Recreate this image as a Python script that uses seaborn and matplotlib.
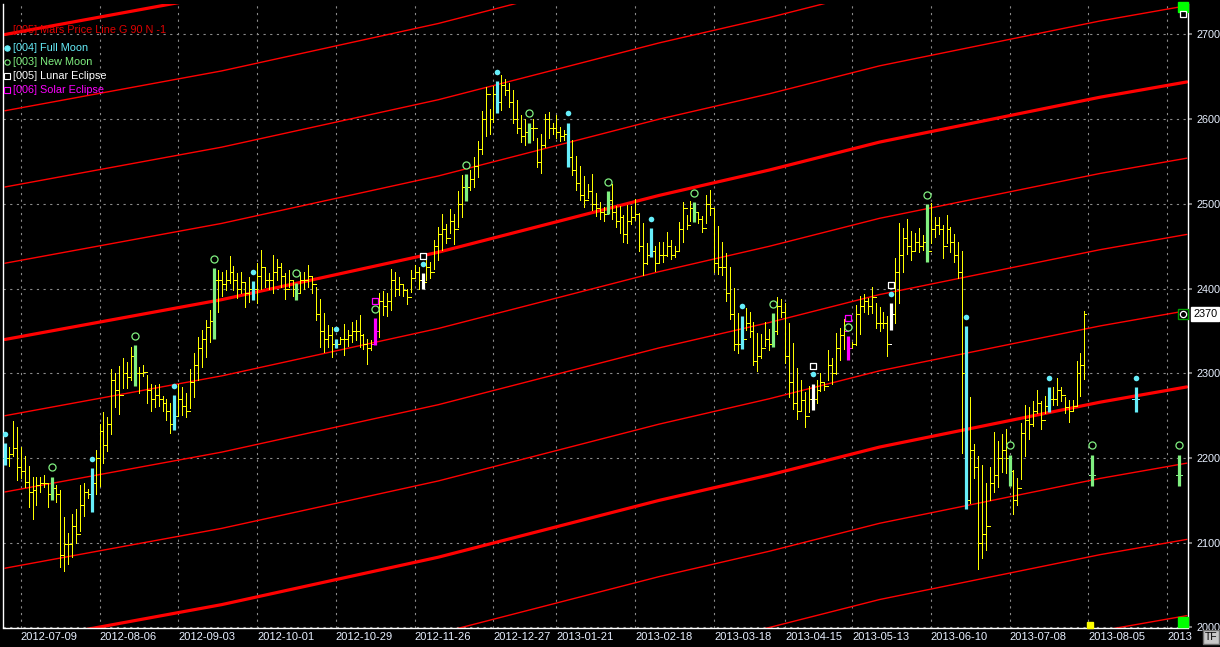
import numpy as np
import pandas as pd
import matplotlib
matplotlib.use("Agg")
import matplotlib.pyplot as plt
import matplotlib.transforms as mtransforms
import seaborn as sns

# daily bars, x = bar number (one per trading day, 2012-07-03 .. 2013-08-02)
highs = [
    2218, 2213, 2244, 2237, 2213, 2202, 2191, 2178, 2178, 2178, 2180, 2170, 2178, 2168, 2162, 2131,
    2111, 2134, 2140, 2168, 2171, 2163, 2188, 2210, 2240, 2254, 2249, 2305, 2300, 2309, 2318, 2313,
    2331, 2333, 2308, 2310, 2298, 2288, 2286, 2288, 2273, 2270, 2265, 2274, 2288, 2284, 2277, 2305,
    2324, 2343, 2351, 2363, 2375, 2424, 2422,
    2420, 2422, 2438, 2427, 2418, 2420, 2407, 2414, 2409, 2430, 2446, 2425, 2418, 2440, 2435, 2430,
    2418, 2422, 2410, 2407, 2420, 2420, 2428, 2414, 2402, 2388, 2371, 2357, 2355, 2341, 2343, 2358,
    2351, 2361, 2363, 2369, 2347, 2340, 2339, 2365, 2395, 2397, 2395, 2423, 2420, 2414, 2404, 2400,
    2422, 2428, 2425, 2418, 2434, 2432, 2457, 2473,
    2488, 2476, 2494, 2488, 2515, 2534, 2535, 2540, 2555, 2574, 2610, 2638, 2612, 2639, 2645, 2652,
    2647, 2643, 2634, 2623, 2605, 2600, 2596, 2600, 2578, 2582, 2606, 2608, 2596, 2605, 2591, 2587,
    2596, 2576, 2556, 2545, 2533, 2524, 2535, 2513, 2502, 2496, 2515, 2524, 2497, 2497, 2487, 2499,
    2497, 2506, 2489, 2477, 2454, 2471, 2450, 2455,
    2455, 2467, 2457, 2450, 2479, 2502, 2487, 2503, 2502, 2491, 2486, 2511, 2516, 2494, 2474, 2455,
    2442, 2426, 2401, 2371, 2368, 2377, 2372, 2361, 2348, 2347, 2361, 2352, 2371, 2390, 2388, 2383,
    2359, 2336, 2306, 2292, 2278, 2285, 2288, 2292, 2300, 2289, 2327, 2318, 2348, 2354, 2364, 2344,
    2337, 2381, 2391, 2394, 2389, 2402, 2383, 2378,
    2373, 2368, 2383, 2436, 2478, 2471, 2482, 2468, 2466, 2471, 2463, 2500, 2501, 2484, 2484, 2475,
    2487, 2473, 2465, 2455, 2444, 2356, 2272, 2217, 2202, 2192, 2170, 2190, 2231, 2220, 2228, 2234,
    2204, 2186, 2176, 2241, 2263, 2260, 2267, 2280, 2267, 2273, 2284, 2284, 2294, 2284, 2272, 2269,
    2268, 2314, 2324, 2374,
]
lows = [
    2192, 2191, 2202, 2174, 2176, 2166, 2142, 2128, 2145, 2160, 2166, 2142, 2150, 2148, 2072, 2067,
    2075, 2083, 2100, 2114, 2132, 2153, 2136, 2157, 2167, 2194, 2208, 2228, 2260, 2252, 2283, 2283,
    2292, 2285, 2277, 2297, 2265, 2256, 2260, 2262, 2256, 2245, 2230, 2233, 2251, 2251, 2248, 2259,
    2272, 2292, 2308, 2319, 2337, 2340, 2373,
    2391, 2398, 2407, 2398, 2389, 2395, 2378, 2384, 2387, 2383, 2400, 2402, 2400, 2395, 2410, 2402,
    2388, 2402, 2391, 2387, 2396, 2400, 2402, 2395, 2363, 2331, 2325, 2331, 2319, 2330, 2335, 2322,
    2332, 2337, 2339, 2331, 2329, 2311, 2327, 2333, 2343, 2369, 2368, 2375, 2391, 2393, 2391, 2382,
    2396, 2413, 2400, 2399, 2410, 2412, 2423, 2434,
    2446, 2454, 2466, 2453, 2473, 2485, 2503, 2516, 2520, 2532, 2559, 2580, 2582, 2597, 2607, 2611,
    2629, 2615, 2595, 2584, 2573, 2570, 2572, 2576, 2544, 2537, 2567, 2578, 2582, 2578, 2574, 2575,
    2544, 2534, 2517, 2505, 2496, 2507, 2493, 2486, 2482, 2480, 2488, 2482, 2473, 2466, 2455, 2454,
    2476, 2481, 2445, 2416, 2429, 2437, 2421, 2430,
    2432, 2438, 2435, 2437, 2446, 2455, 2470, 2480, 2479, 2477, 2467, 2477, 2487, 2420, 2417, 2416,
    2386, 2364, 2328, 2324, 2329, 2351, 2343, 2310, 2303, 2318, 2332, 2328, 2331, 2346, 2366, 2312,
    2272, 2258, 2246, 2256, 2237, 2254, 2257, 2265, 2279, 2280, 2292, 2288, 2299, 2316, 2329, 2316,
    2331, 2333, 2347, 2373, 2370, 2371, 2354, 2350,
    2353, 2320, 2351, 2359, 2383, 2420, 2441, 2434, 2444, 2443, 2446, 2432, 2454, 2461, 2465, 2436,
    2454, 2443, 2432, 2413, 2206, 2140, 2147, 2176, 2069, 2082, 2091, 2150, 2160, 2166, 2183, 2182,
    2167, 2134, 2145, 2175, 2202, 2222, 2238, 2253, 2234, 2253, 2254, 2263, 2263, 2267, 2253, 2242,
    2255, 2261, 2273, 2293,
]
closes = [
    2200, 2205, 2212, 2190, 2185, 2172, 2160, 2162, 2168, 2170, 2170, 2158, 2165, 2158, 2085, 2098,
    2098, 2120, 2110, 2145, 2160, 2158, 2170, 2200, 2232, 2215, 2240, 2292, 2280, 2275, 2300, 2296,
    2320, 2300, 2300, 2302, 2280, 2270, 2275, 2270, 2265, 2255, 2240, 2250, 2270, 2262, 2256, 2290,
    2310, 2330, 2340, 2355, 2362, 2410, 2410,
    2405, 2410, 2420, 2410, 2400, 2408, 2395, 2400, 2400, 2415, 2425, 2410, 2410, 2420, 2425, 2415,
    2400, 2410, 2400, 2395, 2410, 2410, 2415, 2405, 2370, 2350, 2340, 2345, 2335, 2335, 2340, 2340,
    2345, 2350, 2350, 2345, 2335, 2330, 2335, 2350, 2385, 2380, 2385, 2410, 2400, 2405, 2398, 2390,
    2412, 2420, 2410, 2408, 2425, 2420, 2450, 2465,
    2470, 2460, 2480, 2470, 2500, 2520, 2520, 2530, 2545, 2565, 2600, 2630, 2600, 2630, 2620, 2640,
    2635, 2620, 2600, 2590, 2580, 2585, 2590, 2590, 2550, 2570, 2600, 2590, 2590, 2585, 2580, 2582,
    2555, 2540, 2525, 2510, 2505, 2515, 2500, 2495, 2490, 2488, 2505, 2490, 2480, 2485, 2465, 2480,
    2485, 2488, 2450, 2430, 2440, 2445, 2430, 2440,
    2440, 2450, 2440, 2445, 2470, 2495, 2475, 2495, 2490, 2482, 2472, 2500, 2495, 2430, 2425, 2425,
    2395, 2370, 2335, 2335, 2340, 2360, 2350, 2315, 2320, 2330, 2340, 2335, 2350, 2380, 2372, 2320,
    2290, 2265, 2255, 2268, 2250, 2270, 2270, 2280, 2290, 2285, 2310, 2300, 2330, 2345, 2350, 2330,
    2335, 2370, 2380, 2385, 2380, 2390, 2360, 2360,
    2360, 2335, 2370, 2420, 2440, 2460, 2450, 2445, 2455, 2450, 2455, 2445, 2470, 2475, 2470, 2450,
    2470, 2455, 2440, 2420, 2300, 2150, 2210, 2190, 2100, 2110, 2120, 2170, 2180, 2200, 2210, 2200,
    2185, 2150, 2165, 2230, 2245, 2240, 2255, 2265, 2245, 2262, 2270, 2270, 2280, 2275, 2260, 2255,
    2262, 2300, 2310, 2370,
]

full_moon = [0, 22, 43, 63, 84, 106, 125, 143, 164, 187, 205, 225, 244, 265]
new_moon = [12, 33, 53, 74, 94, 117, 133, 153, 175, 195, 214, 234, 255]
lunar_eclipse = [106, 205, 225]
solar_eclipse = [94, 214]

# projected moon bars after the last trading day
proj_idx = [276, 287, 298]
proj_kind = ["new", "full", "new"]
proj_high = [2204, 2284, 2204]
proj_low = [2167, 2254, 2167]
proj_close = [2180, 2270, 2180]

# Mars price line knots (bar number, price); harmonics every 90
mars_idx = [0, 55, 110, 166, 194, 222, 278, 300]
mars_price = [2340, 2387, 2443, 2510, 2540, 2573, 2626, 2644]
mars_step = 90
mars_offsets = list(range(-7, 5))

tick_idx = [4, 24, 44, 64, 84, 104, 124, 140, 160, 180, 198, 215, 235, 255, 275, 295]
tick_labels = ["2012-07-09", "2012-08-06", "2012-09-03", "2012-10-01", "2012-10-29",
               "2012-11-26", "2012-12-27", "2013-01-21", "2013-02-18", "2013-03-18",
               "2013-04-15", "2013-05-13", "2013-06-10", "2013-07-08", "2013-08-05", "2013"]
price_ticks = [2000, 2100, 2200, 2300, 2400, 2500, 2600, 2700]
last_price = 2370

YELLOW = "#ffff00"
CYAN = "#66eefa"
GREEN = "#80f080"
MAGENTA = "#ff00ff"
RED = "#ff0000"
bar_colors = {"plain": YELLOW, "full": CYAN, "new": GREEN, "lunar": "white", "solar": MAGENTA}

sns.set_theme(style="dark", rc={"axes.facecolor": "black", "figure.facecolor": "black",
                                "axes.edgecolor": "white", "text.color": "white",
                                "xtick.color": "white", "ytick.color": "white"})
plt.rcParams["font.family"] = ["Liberation Sans", "DejaVu Sans"]

W, H = 1220, 647
fig = plt.figure(figsize=(W / 100, H / 100), dpi=100)
L, R, T, B = 3, 1188, 4, 627.5
ax = fig.add_axes([L / W, 1 - B / H, (R - L) / W, (B - T) / H])
ax.set_xlim(-0.5, 300.3)
ax.set_ylim(2000, 2736)


def axx(px):
    return (px - L) / (R - L)


def axy(py):
    return (B - py) / (B - T)


# grid
ax.set_yticks(price_ticks)
ax.set_xticks(tick_idx)
ax.grid(True, color="#8a8a8a", linestyle=(0, (2, 4)), lw=0.8)
ax.set_axisbelow(True)

# Mars price lines
for k in mars_offsets:
    thick = k % 4 == 0
    ax.plot(mars_idx, np.array(mars_price) + mars_step * k, color=RED,
            lw=2.3 if thick else 1.0, zorder=2)

# bars
df = pd.DataFrame({"high": highs, "low": lows, "close": closes})
df["open"] = df["close"].shift(1).fillna(df["close"])
df["kind"] = "plain"
df.loc[full_moon, "kind"] = "full"
df.loc[new_moon, "kind"] = "new"
df.loc[lunar_eclipse, "kind"] = "lunar"
df.loc[solar_eclipse, "kind"] = "solar"

proj = pd.DataFrame({"high": proj_high, "low": proj_low, "close": proj_close,
                     "kind": proj_kind}, index=proj_idx)
proj["open"] = proj["close"]
allbars = pd.concat([df, proj])

ONE_PX = 0.72  # one pixel at 100 dpi, in points
for kind, grp in allbars.groupby("kind"):
    thin = kind == "plain"
    lw = ONE_PX if thin else 2.3
    tick = 0.45 if thin else 0.8
    x = grp.index.values
    ax.vlines(x, grp["low"], grp["high"], color=bar_colors[kind], lw=lw,
              zorder=4 if thin else 5, antialiased=not thin)
    ax.hlines(grp["open"], x - tick, x, color=bar_colors[kind], lw=ONE_PX, zorder=5,
              antialiased=False)
    ax.hlines(grp["close"], x, x + tick, color=bar_colors[kind], lw=ONE_PX, zorder=5,
              antialiased=False)

# moon / eclipse markers
fm = allbars.loc[sorted(set(full_moon) | set(proj.index[proj["kind"] == "full"]))]
nm = allbars.loc[sorted(set(new_moon) | set(proj.index[proj["kind"] == "new"]))]
le = allbars.loc[lunar_eclipse]
se = allbars.loc[solar_eclipse]

sns.scatterplot(x=fm.index, y=fm["high"] + 11, marker="o", s=16, color=CYAN,
                edgecolor=CYAN, linewidth=0, ax=ax, zorder=6, legend=False)
sns.scatterplot(x=nm.index, y=nm["high"] + 11, marker="o", s=26, color="black",
                edgecolor=GREEN, linewidth=0.9, ax=ax, zorder=6, legend=False)
sns.scatterplot(x=le.index, y=le["high"] + 21, marker="s", s=22, color="black",
                edgecolor="white", linewidth=0.9, ax=ax, zorder=6, legend=False)
sns.scatterplot(x=se.index, y=se["high"] + 21, marker="s", s=22, color="black",
                edgecolor=MAGENTA, linewidth=0.9, ax=ax, zorder=6, legend=False)

# axes styling
for side in ["left", "right", "bottom"]:
    ax.spines[side].set_color("white")
    ax.spines[side].set_linewidth(1.0)
ax.spines["top"].set_visible(False)
ax.yaxis.tick_right()
ax.tick_params(axis="y", length=3, color="#8a8a8a", pad=3, labelsize=7.8, labelcolor="#e8f0ff")
ax.tick_params(axis="x", length=0, pad=3.5, labelsize=8, labelcolor="#e8f0ff")
ax.set_xticklabels(tick_labels, ha="left")
ax.set_xlabel("")
ax.set_ylabel("")

# last price box
blend = mtransforms.blended_transform_factory(ax.transAxes, ax.transData)
ax.text(1.0045, last_price, str(last_price), transform=blend, ha="left", va="center",
        color="black", fontsize=7.8, clip_on=False,
        bbox=dict(boxstyle="square,pad=0.18", fc="white", ec="white"))
ax.plot([299], [last_price], marker="s", ms=7, mfc="black", mec="#00a000", mew=1,
        zorder=7, clip_on=False)
ax.plot([299], [last_price], marker="o", ms=4.5, mfc="black", mec="white", mew=0.9,
        zorder=8, clip_on=False)

# corner date markers
xblend = mtransforms.blended_transform_factory(ax.transData, ax.transAxes)
ax.plot([299], [axy(7)], marker="s", ms=6.5, mfc="#00ff00", mec="#00ff00",
        transform=xblend, clip_on=False, zorder=7)
ax.plot([299], [axy(14)], marker="s", ms=4.5, mfc="black", mec="white", mew=0.9,
        transform=xblend, clip_on=False, zorder=8)
ax.plot([299], [axy(622)], marker="s", ms=7, mfc="#00ff00", mec="#00ff00",
        transform=xblend, clip_on=False, zorder=7)
ax.plot([275.4], [axy(625)], marker="s", ms=5, mfc=YELLOW, mec=YELLOW,
        transform=xblend, clip_on=False, zorder=7)

# legend block
leg_items = [
    ("[005] Mars Price Line G 90 N -1", "#e00000", None, 30),
    ("[004] Full Moon", CYAN, ("o", CYAN, CYAN), 48),
    ("[003] New Moon", GREEN, ("o", "black", GREEN), 62),
    ("[005] Lunar Eclipse", "white", ("s", "black", "white"), 76),
    ("[006] Solar Eclipse", MAGENTA, ("s", "black", MAGENTA), 90),
]
for label, col, mk, py in leg_items:
    ax.text(axx(13), axy(py), label, transform=ax.transAxes, color=col, fontsize=7.8,
            ha="left", va="center", zorder=9)
    if mk is not None:
        ax.plot([axx(6.5)], [axy(py)], marker=mk[0], ms=3.8, mfc=mk[1], mec=mk[2],
                mew=0.8, transform=ax.transAxes, clip_on=False, zorder=9)

# TF button
fig.text(1211 / W, 1 - 637 / H, "TF", ha="center", va="center", color="black", fontsize=7.5,
         bbox=dict(boxstyle="square,pad=0.2", fc="#c8c8c8", ec="#707070"))

fig.savefig("out.png", dpi=100, facecolor="black")
